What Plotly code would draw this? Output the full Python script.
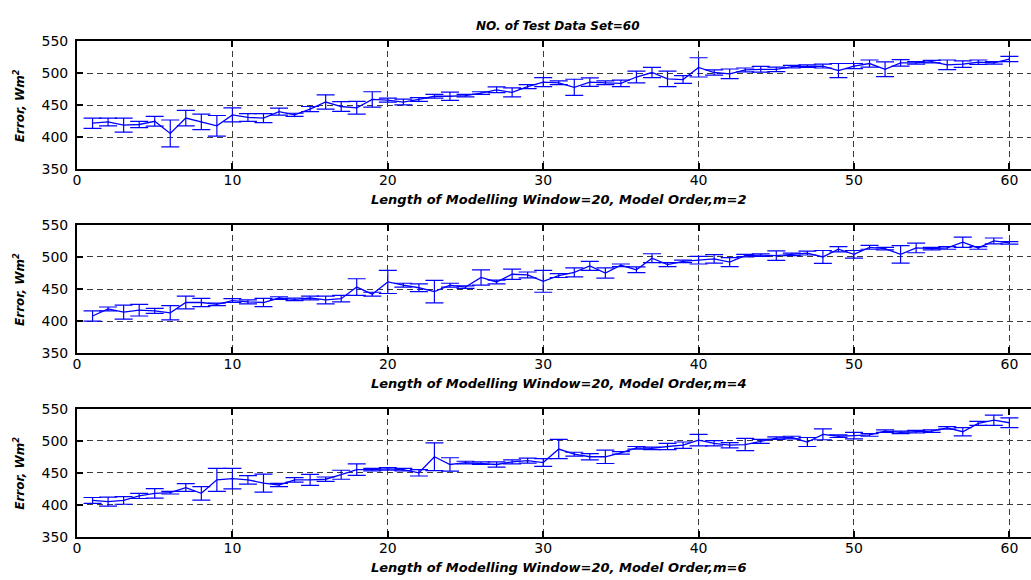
import plotly.graph_objects as go

# Window positions (test set index)
x_idx = list(range(1, 61))

# Mean error and its spread for model order m=2
err_m2 = [422, 424, 419, 420, 425, 406, 430, 424, 418, 435,
          431, 430, 440, 435, 444, 455, 448, 446, 459, 458,
          455, 459, 464, 464, 465, 469, 474, 470, 479, 486,
          485, 478, 486, 485, 484, 494, 501, 491, 490, 509,
          501, 499, 505, 506, 506, 510, 511, 511, 504, 511,
          515, 506, 516, 516, 518, 513, 514, 517, 516, 522]
sd_m2 = [8, 6, 11, 5, 7.5, 21, 12, 12, 16, 11,
         6, 7, 5.5, 2.5, 4, 11, 7.5, 10, 12, 3,
         4.5, 3, 3, 6.5, 2, 2, 4.5, 7, 3, 7,
         3, 12.5, 6.5, 3, 5, 9, 8, 12, 6, 15,
         4, 7.5, 3, 4.5, 3.5, 2, 2, 3, 11, 4,
         5.5, 11.5, 5, 2, 2, 7.5, 5, 3.5, 2, 4]

# Model order m=4
err_m4 = [408, 419, 414, 417, 416, 413, 429, 429, 426, 432,
          430, 429, 436, 434, 436, 433, 435, 453, 442, 461,
          456, 452, 446, 456, 453, 468, 461, 473, 472, 462,
          471, 476, 486, 475, 487, 480, 498, 488, 493, 495,
          497, 492, 502, 503, 502, 504, 506, 500, 512, 504,
          515, 513, 504, 514, 513, 514, 523, 514, 525, 522]
sd_m4 = [8, 3, 11, 9, 4, 11, 10, 6.5, 2, 3,
         3, 6.5, 2, 2, 3, 6, 5, 13, 3, 18,
         3, 6, 17.5, 3, 2, 12, 3, 8, 4.5, 17,
         3, 7, 7, 8, 2, 4.5, 7, 3, 2, 6,
         6.5, 7, 2, 2, 7.5, 2, 3, 10, 4, 6,
         3, 2, 13.5, 7.5, 2, 2, 8, 2, 4.5, 2]

# Model order m=6
err_m6 = [407, 405, 407, 414, 418, 419, 427, 418, 439, 441,
          439, 434, 431, 439, 439, 440, 447, 455, 455, 456,
          455, 450, 475, 463, 466, 465, 463, 467, 469, 466,
          487, 479, 475, 475, 481, 489, 488, 491, 493, 501,
          496, 493, 494, 499, 504, 505, 498, 510, 507, 508,
          509, 515, 513, 514, 515, 520, 514, 527, 532, 528]
sd_m6 = [4.5, 7, 6, 4, 7.5, 2, 6, 10.5, 18, 16,
         6.5, 14, 2.5, 3.5, 8.5, 3.5, 7, 9, 2, 2,
         2, 5, 21.5, 10.5, 2, 2, 4, 3, 4, 6,
         15, 3, 5, 10.5, 2, 2, 2, 5, 5, 9,
         4, 4, 9.5, 3, 2, 2, 7, 8.5, 2, 5,
         2, 2, 2, 2, 2, 2, 6.5, 3, 8, 7.5]

x_ticks = [0, 10, 20, 30, 40, 50, 60]
y_ticks = [350, 400, 450, 500, 550]

series = [(err_m2, sd_m2, "m=2"), (err_m4, sd_m4, "m=4"), (err_m6, sd_m6, "m=6")]

W, H = 1031, 580
LEFT = 73.3
# vertical pixel extent (top, bottom) of each panel
panels = [(34, 166), (223, 355), (412, 544)]

TICK_FONT = dict(family="DejaVu Sans", size=14, color="black")
LABEL_FONT = dict(family="DejaVu Sans", size=13, color="black", weight="bold", style="italic")

fig = go.Figure()

for i, (vals, spread, order) in enumerate(series):
    n = "" if i == 0 else str(i + 1)
    fig.add_trace(go.Scatter(
        x=x_idx, y=vals, mode="lines",
        line=dict(color="#0000ff", width=1.3),
        error_y=dict(type="data", array=spread, visible=True,
                     color="#0000ff", thickness=1.2, width=9),
        xaxis="x" + n, yaxis="y" + n, showlegend=False,
    ))
    top, bot = panels[i]
    dom = [1 - bot / H, 1 - top / H]
    axis_common = dict(
        showline=True, linecolor="black", linewidth=2,
        ticks="inside", tickcolor="black", tickwidth=2, ticklen=6,
        showgrid=True, gridcolor="#3a3a3a", gridwidth=1, griddash="6px,4px",
        zeroline=False, tickfont=TICK_FONT,
    )
    fig.layout["xaxis" + n] = dict(
        axis_common, domain=[LEFT / W, 1.0], range=[0, (W - LEFT) / 15.6],
        tickvals=x_ticks, mirror="ticks", anchor="y" + n,
        ticklabelstandoff=-3,
    )
    fig.layout["yaxis" + n] = dict(
        axis_common, domain=dom, range=[350, 550], tickvals=y_ticks,
        mirror=False, anchor="x" + n, ticklabelstandoff=4,
    )
    # x-axis caption under each panel
    fig.add_annotation(
        text=f"Length of Modelling Window=20, Model Order,{order}",
        xref="paper", yref="paper", x=556.5 / W, y=1 - (bot + 31) / H,
        xanchor="center", yanchor="middle", showarrow=False, font=LABEL_FONT,
    )
    # y-axis caption
    fig.add_annotation(
        text="Error, Wm<sup>2</sup>", textangle=-90,
        xref="paper", yref="paper", x=15 / W, y=1 - (top + bot) / 2 / H,
        xanchor="center", yanchor="middle", showarrow=False,
        font=dict(LABEL_FONT, size=12),
    )

fig.add_annotation(
    text="NO. of Test Data Set=60",
    xref="paper", yref="paper", x=556.5 / W, y=1 - 19 / H,
    xanchor="center", yanchor="middle", showarrow=False,
    font=dict(LABEL_FONT, size=12),
)

fig.update_layout(
    width=W, height=H, margin=dict(l=0, r=0, t=0, b=0),
    paper_bgcolor="white", plot_bgcolor="white",
)

fig.write_html("out.html")
